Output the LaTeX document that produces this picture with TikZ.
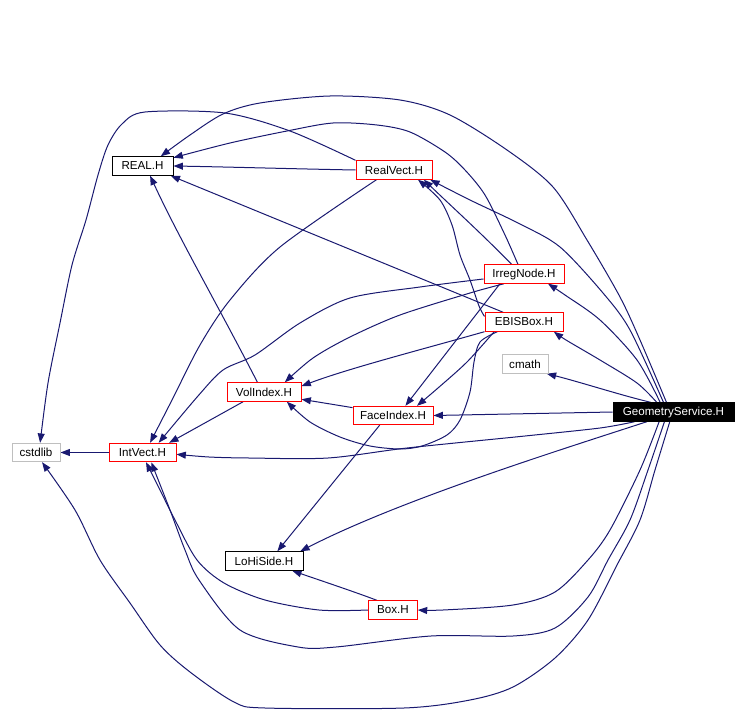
\documentclass[tikz,border=0pt]{standalone}
\usepackage{fontspec}
\setmainfont{Liberation Sans}
\usetikzlibrary{arrows.meta, backgrounds}
\definecolor{edgeblue}{RGB}{25,25,112}
\definecolor{boxgray}{RGB}{191,191,191}

\begin{document}
\begin{tikzpicture}[x=0.75pt, y=-0.75pt,
  hdr/.style={draw=red, fill=white, line width=0.75pt, minimum height=13.8pt,
    inner sep=0pt, font=\fontsize{8.7}{10}\selectfont},
  full/.style={hdr, draw=black},
  sys/.style={hdr, draw=boxgray},
  dep/.style={draw=edgeblue, line width=0.75pt, -{Triangle[length=7pt,width=5.2pt]}}]
\useasboundingbox (0,0) rectangle (746,724);

%header boxes
\node[full, minimum width=45.75pt] (real) at (142.5,166) {REAL.H};
\node[hdr, minimum width=57pt] (rv) at (394,170) {RealVect.H};
\node[hdr, minimum width=60pt] (irr) at (524,274) {IrregNode.H};
\node[hdr, minimum width=58.5pt] (eb) at (524,322) {EBISBox.H};
\node[sys, minimum width=34.5pt] (cm) at (525,364) {cmath};
\node[full, fill=black, text=white, minimum width=90.75pt] (gs) at (673.5,412) {GeometryService.H};
\node[hdr, minimum width=55.5pt] (vol) at (264,392) {VolIndex.H};
\node[hdr, minimum width=60pt] (fi) at (393,415.5) {FaceIndex.H};
\node[hdr, minimum width=50.25pt] (iv) at (142.5,452.5) {IntVect.H};
\node[sys, minimum width=36pt] (cs) at (36,452.5) {cstdlib};
\node[full, minimum width=58.5pt] (lo) at (264,561) {LoHiSide.H};
\node[hdr, minimum width=36.5pt] (bx) at (393,610) {Box.H};

\begin{pgfonlayer}{background}
%cstdlib
\draw[dep] (iv.west) -- (cs.east);
\draw[dep] plot[smooth] coordinates {(rv.north west) (290,131) (225,113) (145,112) (122,124)
  (108,145) (98,175) (86,220) (72,265) (60,323) (48,383) (cs.67)};
\draw[dep] plot[smooth] coordinates {(gs.249) (655,470) (640,520) (617,565) (588,620) (555,658)
  (513,687) (470,700) (404,708) (265,708) (234,702) (190,672) (160,645) (130,603) (100,560)
  (75,510) (cs.-58)};

%REAL.H
\draw[dep] plot[smooth] coordinates {(gs.126) (640,340) (620,297) (587,240) (553,187) (507,150)
  (450,115) (400,100) (330,96) (260,103) (223,114) (190,135) (real.28)};
\draw[dep] plot[smooth] coordinates {(irr.122) (505,235) (485,195) (465,170) (445,152) (410,132)
  (377,125) (333,123) (287,131) (230,143) (real.15)};
\draw[dep] (rv.west) .. controls (300,169) and (230,167) .. (real.east);
\draw[dep] (eb.155) -- (real.-19);
\draw[dep] (vol.124) .. controls (215,300) and (180,240) .. (real.-52);

%RealVect.H
\draw[dep] plot[smooth] coordinates {(gs.136) (630,330) (603,293) (560,247) (520,224) (470,200) (rv.-15)};
\draw[dep] (irr.142) .. controls (480,232) and (450,205) .. (rv.-18);
\draw[dep] plot[smooth] coordinates {(eb.172) (479,306) (470,280) (460,255) (452,225) (440,200) (rv.-22)};

%IrregNode.H, EBISBox.H, cmath
\draw[dep] plot[smooth] coordinates {(gs.144) (637,360) (600,320) (565,295) (irr.-22)};
\draw[dep] plot[smooth] coordinates {(gs.150) (637,383) (600,360) (566,340) (eb.-18)};
\draw[dep] (gs.157) .. controls (620,395) and (580,382) .. (cm.-24);

%FaceIndex.H
\draw[dep] (gs.west) -- (fi.east);
\draw[dep] (irr.202) -- (fi.38);
\draw[dep] plot[smooth] coordinates {(eb.198) (467,362) (438,388) (fi.22)};

%VolIndex.H
\draw[dep] (fi.169) -- (vol.-11);
\draw[dep] (eb.south west) .. controls (420,350) and (350,368) .. (vol.9);
\draw[dep] plot[smooth] coordinates {(irr.206) (470,293) (400,315) (350,337) (313,358) (vol.25)};
\draw[dep] plot[smooth] coordinates {(eb.200) (480,342) (474,362) (470,392) (460,420) (447,435)
  (422,446) (400,449) (370,446) (340,437) (310,422) (vol.-23)};

%IntVect.H
\draw[dep] plot[smooth] coordinates {(gs.194) (600,428) (525,436) (407,448) (328,458) (249,458)
  (209,457) (iv.-3)};
\draw[dep] plot[smooth] coordinates {(irr.187) (420,287) (350,298) (300,323) (255,355) (223,370)
  (198,396) (iv.31)};
\draw[dep] plot[smooth] coordinates {(rv.209) (280,247) (230,300) (200,345) (172,400) (iv.52)};
\draw[dep] (vol.205) -- (iv.20);
\draw[dep] plot[smooth] coordinates {(bx.west) (319,610) (265,600) (224,583) (197,560) (175,520)
  (160,490) (iv.-70)};
\draw[dep] plot[smooth] coordinates {(gs.227) (648,470) (630,520) (608,560) (588,597) (555,628)
  (513,636) (431,636) (336,647) (298,647) (240,630) (199,580) (185,550) (170,510) (iv.-48)};

%LoHiSide.H and Box.H
\draw[dep] (fi.216) -- (lo.36);
\draw[dep] (gs.200) .. controls (560,450) and (400,500) .. (lo.15);
\draw[dep] (bx.149) .. controls (355,592) and (325,582) .. (lo.-19);
\draw[dep] plot[smooth] coordinates {(gs.214) (640,470) (610,530) (588,560) (555,592) (513,605)
  (443,610) (bx.east)};
\end{pgfonlayer}
\end{tikzpicture}
\end{document}
